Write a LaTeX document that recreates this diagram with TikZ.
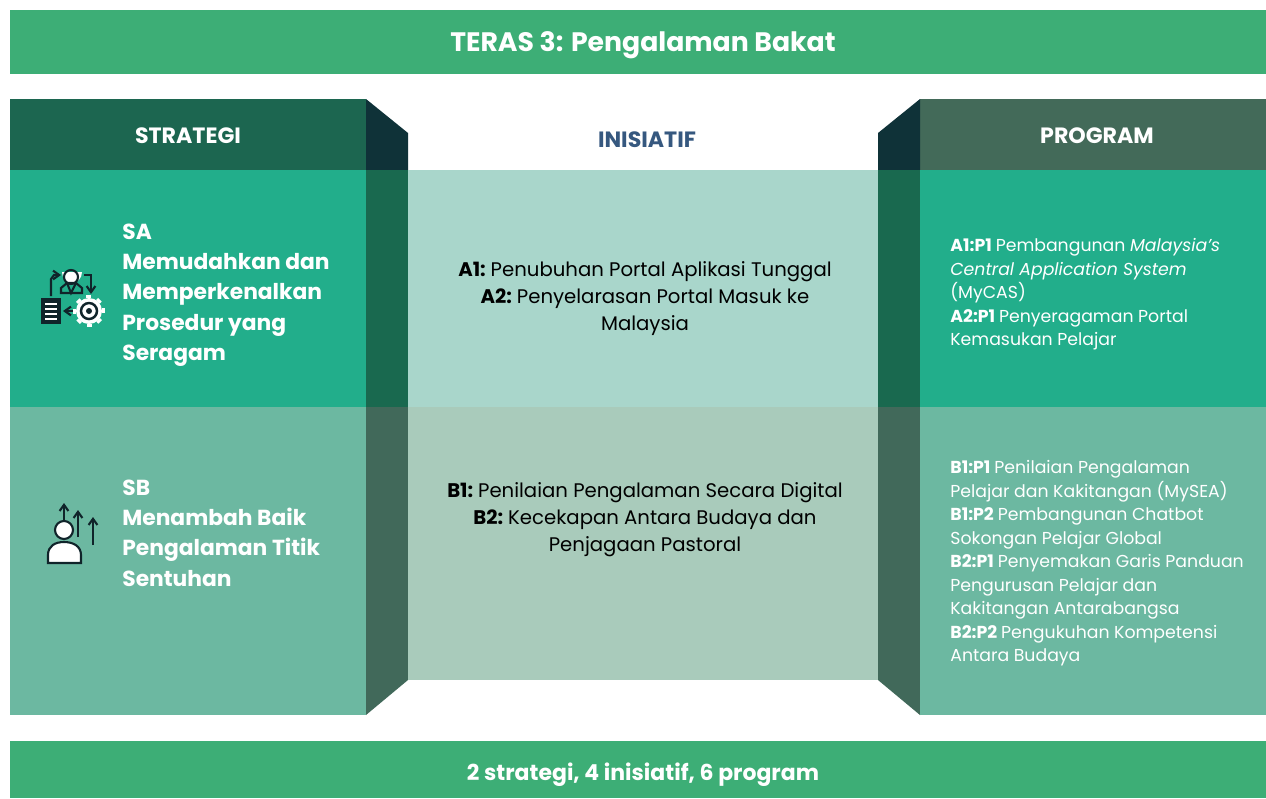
\documentclass[tikz,border=0pt]{standalone}
\usepackage{fontspec}
\setmainfont{Poppins}
\usepackage{xcolor}
\usetikzlibrary{calc, arrows.meta}

\definecolor{banner}{HTML}{3DAE76}
\definecolor{headLeft}{HTML}{1C6650}
\definecolor{headRight}{HTML}{436A59}
\definecolor{foldTop}{HTML}{0F3238}
\definecolor{rowOne}{HTML}{22AE8B}
\definecolor{rowTwo}{HTML}{6CB8A1}
\definecolor{foldOne}{HTML}{19694F}
\definecolor{foldTwo}{HTML}{41695A}
\definecolor{centerOne}{HTML}{A9D6CB}
\definecolor{centerTwo}{HTML}{A9CBBB}
\definecolor{inisiatifBlue}{HTML}{36587F}
\definecolor{iconInk}{HTML}{10242A}

\newcommand{\tagged}[1]{\textbf{#1}\hspace{-1.2pt}}
\newcommand{\taggedP}[1]{\textbf{#1}\hspace{-0.4pt}}

\tikzset{
	titleText/.style={text=white, font=\bfseries\fontsize{15.2}{18}\selectfont},
	summaryText/.style={text=white, font=\bfseries\fontsize{12.5}{15}\selectfont},
	headText/.style={font=\bfseries\fontsize{12.6}{15}\selectfont},
	strategyText/.style={anchor=north west, align=left, text=white, inner sep=0pt, font=\bfseries\fontsize{12.4}{17.2}\selectfont},
	initiativeText/.style={align=center, text=black, inner sep=0pt, font=\fontsize{11.2}{15.3}\selectfont},
	programText/.style={anchor=north west, align=left, text=white, inner sep=0pt, font=\fontsize{9.85}{13.4}\selectfont},
	iconLine/.style={draw=iconInk, line width=1.2pt},
	iconArrow/.style={iconLine, -{Straight Barb[length=3.5pt,width=5pt]}}
}

\begin{document}
\begin{tikzpicture}[x=0.02cm, y=-0.02cm]
	\def\xLeft{10};
	\def\xFoldL{366};
	\def\xMidL{408};
	\def\xMidR{878};
	\def\xFoldR{920};
	\def\xRight{1266};
	\def\yTop{99};
	\def\yNotch{133};
	\def\yHead{170};
	\def\yRow{407};
	\def\yMidEnd{680};
	\def\yEnd{715};

	\useasboundingbox (0,0) rectangle (1266,798);

	\begin{scope}
		\fill[banner] (\xLeft,10) rectangle (\xRight,74);
		\fill[banner] (\xLeft,741) rectangle (\xRight,798);
		\node[titleText] (title) at (643,45) {TERAS 3: Pengalaman Bakat};
		\node[summaryText] (summary) at (643,775) {2 strategi, 4 inisiatif, 6 program};
	\end{scope}

	\begin{scope}
		\fill[headLeft] (\xLeft,\yTop) rectangle (\xFoldL,\yHead);
		\fill[foldTop] (\xFoldL,\yTop) -- (\xMidL,\yNotch) -- (\xMidL,\yHead) -- (\xFoldL,\yHead) -- cycle;
		\fill[headRight] (\xFoldR,\yTop) rectangle (\xRight,\yHead);
		\fill[foldTop] (\xFoldR,\yTop) -- (\xMidR,\yNotch) -- (\xMidR,\yHead) -- (\xFoldR,\yHead) -- cycle;
		\node[headText, text=white] (strategi) at (188,136) {STRATEGI};
		\node[headText, text=inisiatifBlue] (inisiatif) at (647,140) {INISIATIF};
		\node[headText, text=white] (program) at (1097,136) {PROGRAM};
	\end{scope}

	\begin{scope}
		\fill[rowOne] (\xLeft,\yHead) rectangle (\xFoldL,\yRow);
		\fill[foldOne] (\xFoldL,\yHead) rectangle (\xMidL,\yRow);
		\fill[centerOne] (\xMidL,\yHead) rectangle (\xMidR,\yRow);
		\fill[foldOne] (\xMidR,\yHead) rectangle (\xFoldR,\yRow);
		\fill[rowOne] (\xFoldR,\yHead) rectangle (\xRight,\yRow);
	\end{scope}

	\begin{scope}
		\fill[rowTwo] (\xLeft,\yRow) rectangle (\xFoldL,\yEnd);
		\fill[foldTwo] (\xFoldL,\yRow) -- (\xMidL,\yRow) -- (\xMidL,\yMidEnd) -- (\xFoldL,\yEnd) -- cycle;
		\fill[centerTwo] (\xMidL,\yRow) rectangle (\xMidR,\yMidEnd);
		\fill[foldTwo] (\xMidR,\yRow) -- (\xFoldR,\yRow) -- (\xFoldR,\yEnd) -- (\xMidR,\yMidEnd) -- cycle;
		\fill[rowTwo] (\xFoldR,\yRow) rectangle (\xRight,\yEnd);
	\end{scope}

	\node[strategyText] (sa) at (122,223.5) {SA\\Memudahkan dan\\Memperkenalkan\\Prosedur yang\\Seragam};
	\node[strategyText] (sb) at (122,479.5) {SB\\Menambah Baik\\Pengalaman Titik\\Sentuhan};

	\node[initiativeText] (initA) at (645,298.5) {\tagged{A1:} Penubuhan Portal Aplikasi Tunggal\\\tagged{A2:} Penyelarasan Portal Masuk ke\\Malaysia};
	\node[initiativeText] (initB) at (645,519.5) {\tagged{B1:} Penilaian Pengalaman Secara Digital\\\tagged{B2:} Kecekapan Antara Budaya dan\\Penjagaan Pastoral};

	\node[programText] (progA) at (950,238) {\taggedP{A1:P1} Pembangunan \textit{Malaysia’s}\\\textit{Central Application System}\\(MyCAS)\\\taggedP{A2:P1} Penyeragaman Portal\\Kemasukan Pelajar};
	\node[programText] (progB) at (950,460) {\taggedP{B1:P1} Penilaian Pengalaman\\Pelajar dan Kakitangan (MySEA)\\\taggedP{B1:P2} Pembangunan Chatbot\\Sokongan Pelajar Global\\\taggedP{B2:P1} Penyemakan Garis Panduan\\Pengurusan Pelajar dan\\Kakitangan Antarabangsa\\\taggedP{B2:P2} Pengukuhan Kompetensi\\Antara Budaya};

	\begin{scope}
		\fill[white] (62,272) arc (180:0:10 and 11) -- cycle;
		\draw[iconLine] (71,277) circle (7);
		\draw[iconLine] (61,293) -- (61,288) -- (67,283) -- (76,283) -- (82,288) -- (82,293) -- cycle;
		\draw[iconLine] (67,283) -- (71,293) -- (76,283);
		\draw[iconArrow] (51,296) -- (51,279) -- (54,275) -- (61,275);
		\draw[iconArrow] (84,275) -- (91,275) -- (91,294);
		\fill[iconInk] (41,298) rectangle (61,324);
		\foreach \yDoc in {304,309,...,319}
			\draw[white, line width=0.8pt] (45,\yDoc) -- (57,\yDoc);
		\draw[iconArrow] (74,311) -- (63,311);
		\fill[white] (89,311) circle (13);
		\foreach \aTooth in {0,45,...,315}
			\fill[white] (89,311) ++(\aTooth-12:13) -- ++(\aTooth:3) -- ++(\aTooth+90:5) -- ++(\aTooth:-3) -- cycle;
		\draw[iconInk, line width=1.4pt] (89,311) circle (8);
		\fill[iconInk] (89,311) circle (3);
	\end{scope}

	\begin{scope}
		\draw[iconLine, fill=white] (48,563) -- (48,555) .. controls (48,546) and (55,542) .. (64,542) .. controls (73,542) and (81,546) .. (81,555) -- (81,563) -- cycle;
		\draw[iconLine, fill=white] (64,530) circle (9);
		\draw[iconArrow] (64,521) -- (64,503);
		\draw[iconArrow] (78,537) -- (78,510);
		\draw[iconArrow] (93,545) -- (93,517);
	\end{scope}
\end{tikzpicture}
\end{document}
